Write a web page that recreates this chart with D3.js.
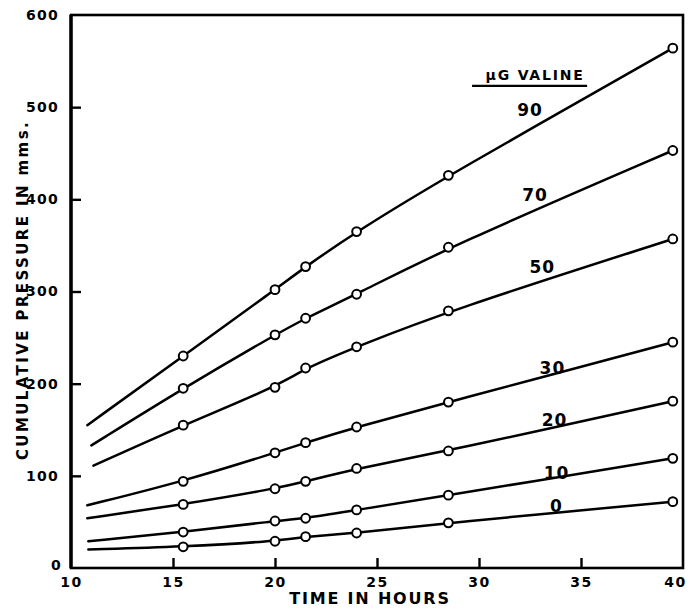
<!DOCTYPE html>
<html>
<head>
<meta charset="utf-8">
<script src="https://cdn.jsdelivr.net/npm/d3@7"></script>
<style>
  html, body { margin: 0; padding: 0; background: #fff; }
  svg { display: block; }
  text { font-family: "DejaVu Sans", "Liberation Sans", sans-serif; font-weight: bold; fill: #000; }
</style>
</head>
<body>
<svg id="chart" width="690" height="609"></svg>
<script>
// Sampling times (hours) for the plotted observations
const hours = [15.5, 20, 21.5, 24, 28.5, 39.5];

// Valine levels (µg) and the cumulative pressure readings (mm) for each
const valineLevels = ["90", "70", "50", "30", "20", "10", "0"];
const pressure90 = [230, 302, 327, 365, 426, 564];
const pressure70 = [195, 253, 271, 297, 348, 453];
const pressure50 = [155, 196, 217, 240, 279, 357];
const pressure30 = [94, 125, 136, 153, 180, 245];
const pressure20 = [69, 86, 94, 108, 127, 181];
const pressure10 = [39, 51, 54, 63, 79, 119];
const pressure0  = [23, 29, 34, 38, 49, 72];

// Where each drawn curve begins (no observation marker there)
const curveStartHour = [10.8, 11.0, 11.1, 10.8, 10.8, 10.85, 10.85];
const curveStartValue = [155, 133, 111, 68, 54, 29, 20];

// Curve label anchors, in data units (hour, mm)
const labelHour = [32.5, 32.75, 33.1, 33.6, 33.7, 33.8, 33.8];
const labelValue = [497, 405, 327, 217, 161, 103, 67];

// Axis ticks
const xTicks = [10, 15, 20, 25, 30, 35, 40];
const yTicks = [0, 100, 200, 300, 400, 500, 600];

const series = [pressure90, pressure70, pressure50, pressure30, pressure20, pressure10, pressure0];

const svg = d3.select("#chart");
const x = d3.scaleLinear().domain([10, 40]).range([71, 683]);
const y = d3.scaleLinear().domain([0, 600]).range([568, 15]);

// Frame
svg.append("rect")
  .attr("x", x(10)).attr("y", y(600))
  .attr("width", x(40) - x(10)).attr("height", y(0) - y(600))
  .attr("fill", "none").attr("stroke", "#000").attr("stroke-width", 2.6);
svg.append("line")
  .attr("x1", x(10)).attr("x2", x(10)).attr("y1", y(600)).attr("y2", y(0))
  .attr("stroke", "#000").attr("stroke-width", 3.4);

// Bottom axis: inward ticks, labels below
const xAxis = d3.axisBottom(x).tickValues(xTicks).tickSizeInner(-10).tickSizeOuter(0).tickPadding(16);
const gx = svg.append("g").attr("transform", `translate(0,${y(0)})`).call(xAxis);
gx.select(".domain").remove();
gx.selectAll(".tick line").attr("stroke", "#000").attr("stroke-width", 2.4)
  .filter(d => d === 10 || d === 40).remove();
gx.selectAll(".tick text").attr("font-size", 14).attr("letter-spacing", 1.5)
  .attr("font-family", "DejaVu Sans").attr("font-weight", "bold")
  .attr("dy", "0.2em");
gx.selectAll(".tick").filter(d => d === 40).select("text").attr("x", -8);

// Left axis: inward ticks, labels to the left
const yAxis = d3.axisLeft(y).tickValues(yTicks).tickSizeInner(-10).tickSizeOuter(0).tickPadding(12);
const gy = svg.append("g").attr("transform", `translate(${x(10)},0)`).call(yAxis);
gy.select(".domain").remove();
gy.selectAll(".tick line").attr("stroke", "#000").attr("stroke-width", 2.4)
  .filter(d => d === 0 || d === 600).remove();
gy.selectAll(".tick text").attr("font-size", 14).attr("letter-spacing", 1.3)
  .attr("font-family", "DejaVu Sans").attr("font-weight", "bold");
gy.selectAll(".tick").filter(d => d === 0).select("text").attr("dy", "0.1em").attr("x", -9);

// Axis titles
svg.append("text")
  .attr("x", 370).attr("y", 604)
  .attr("text-anchor", "middle").attr("font-size", 16).attr("letter-spacing", 1.8)
  .text("TIME IN HOURS");

svg.append("text")
  .attr("transform", "translate(28,290) rotate(-90)")
  .attr("text-anchor", "middle").attr("font-size", 15).attr("letter-spacing", 2.4)
  .text("CUMULATIVE PRESSURE IN mms.");

// Smoothed curves through the readings, with open-circle markers
const line = d3.line()
  .x(d => x(d[0])).y(d => y(d[1]))
  .curve(d3.curveBasis);

series.forEach((vals, i) => {
  const pts = [[curveStartHour[i], curveStartValue[i]]].concat(hours.map((h, j) => [h, vals[j]]));
  svg.append("path")
    .attr("d", line(pts))
    .attr("fill", "none").attr("stroke", "#000").attr("stroke-width", 2.5)
    .attr("stroke-linejoin", "round").attr("stroke-linecap", "round");
  svg.append("g").selectAll("circle")
    .data(hours.map((h, j) => [h, vals[j]]))
    .join("circle")
    .attr("cx", d => x(d[0])).attr("cy", d => y(d[1]))
    .attr("r", 4.4)
    .attr("fill", "#fff").attr("stroke", "#000").attr("stroke-width", 2);
  svg.append("text")
    .attr("x", x(labelHour[i])).attr("y", y(labelValue[i]))
    .attr("text-anchor", "middle").attr("dominant-baseline", "central")
    .attr("font-size", 17).attr("font-weight", "bold").attr("letter-spacing", 1)
    .text(valineLevels[i]);
});

// Series heading with underline
svg.append("text")
  .attr("x", x(32.75)).attr("y", y(535))
  .attr("text-anchor", "middle").attr("dominant-baseline", "central")
  .attr("font-size", 14).attr("letter-spacing", 1.8)
  .text("\u03BCG VALINE");
svg.append("line")
  .attr("x1", x(29.66)).attr("x2", x(35.3))
  .attr("y1", y(523)).attr("y2", y(523))
  .attr("stroke", "#000").attr("stroke-width", 2.2);
</script>
</body>
</html>
